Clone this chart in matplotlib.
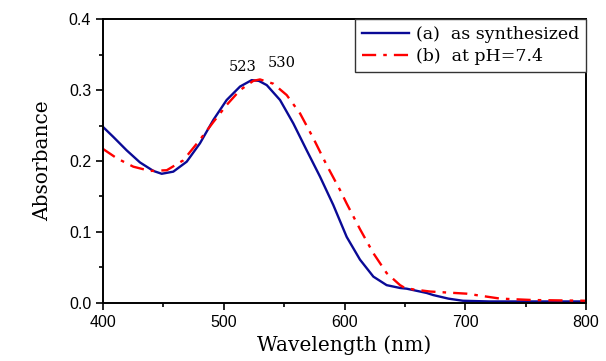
import matplotlib
matplotlib.use('Agg')
import matplotlib.pyplot as plt
from matplotlib.ticker import MultipleLocator

# (a) as synthesized
wl_a = [400, 408.5, 419.6, 430.6, 441.7, 448.6, 458.2, 469.3, 480.3, 491.4,
        502.4, 513.5, 523.1, 529, 535.6, 546.6, 557.6, 568.7, 579.7, 590.7,
        601.8, 612.8, 623.9, 634.9, 646, 651.5, 668, 673.5, 686, 698, 720,
        750, 800]
abs_a = [0.248, 0.234, 0.215, 0.198, 0.186, 0.182, 0.185, 0.199, 0.225, 0.258,
         0.286, 0.305, 0.314, 0.313, 0.307, 0.286, 0.253, 0.215, 0.178, 0.138,
         0.093, 0.061, 0.037, 0.025, 0.021, 0.020, 0.014, 0.011, 0.006, 0.003,
         0.002, 0.002, 0.002]

# (b) at pH=7.4
wl_b = [400, 411.3, 425.1, 438.9, 452.8, 466.5, 480.3, 491.4, 502.4, 513.5,
        524.5, 530, 541, 552.1, 563.2, 574.2, 585.3, 596.3, 601.8, 612.8,
        623.9, 634.9, 646, 650, 657, 670.8, 701, 729, 756, 800]
abs_b = [0.217, 0.204, 0.192, 0.186, 0.187, 0.201, 0.230, 0.255, 0.279, 0.300,
         0.313, 0.315, 0.309, 0.293, 0.267, 0.232, 0.194, 0.159, 0.140, 0.104,
         0.070, 0.042, 0.025, 0.021, 0.019, 0.016, 0.013, 0.006, 0.004, 0.003]

labels = ['(a)  as synthesized', '(b)  at pH=7.4']
peaks = ['523', '530']

serif = ['DejaVu Serif']

fig = plt.figure(figsize=(6.06, 3.61), dpi=100)
ax = fig.add_axes([0.170, 0.161, 0.797, 0.786])

ax.plot(wl_a, abs_a, color='#0a0a96', lw=1.7, label=labels[0])
ax.plot(wl_b, abs_b, color='#ff0000', lw=1.7, dashes=(6, 3, 1.5, 3), label=labels[1])

ax.text(516, 0.333, peaks[0], fontsize=10.5, family=serif, ha='center', va='center')
ax.text(548, 0.338, peaks[1], fontsize=10.5, family=serif, ha='center', va='center')

ax.set_xlim(400, 800)
ax.set_ylim(0, 0.4)
ax.xaxis.set_major_locator(MultipleLocator(100))
ax.xaxis.set_minor_locator(MultipleLocator(50))
ax.yaxis.set_major_locator(MultipleLocator(0.1))
ax.yaxis.set_minor_locator(MultipleLocator(0.05))
ax.tick_params(which='both', direction='out', width=1.2)
ax.tick_params(which='major', length=5, labelsize=11.5)
ax.tick_params(which='minor', length=3)
for lab in ax.get_xticklabels() + ax.get_yticklabels():
    lab.set_family(['Liberation Sans', 'DejaVu Sans'])
for s in ax.spines.values():
    s.set_linewidth(1.4)

ax.set_xlabel('Wavelength (nm)', fontsize=14.5, family=serif, labelpad=4)
ax.set_ylabel('Absorbance', fontsize=14.5, family=serif, labelpad=12)

leg = ax.legend(loc='upper right', bbox_to_anchor=(1, 1), borderaxespad=0,
                fancybox=False, framealpha=1, edgecolor='#333333',
                prop={'family': serif, 'size': 12.5}, handlelength=2.7,
                handletextpad=0.4, borderpad=0.4, labelspacing=0.3)
leg.get_frame().set_linewidth(1.0)

fig.savefig('out.png', dpi=100)
